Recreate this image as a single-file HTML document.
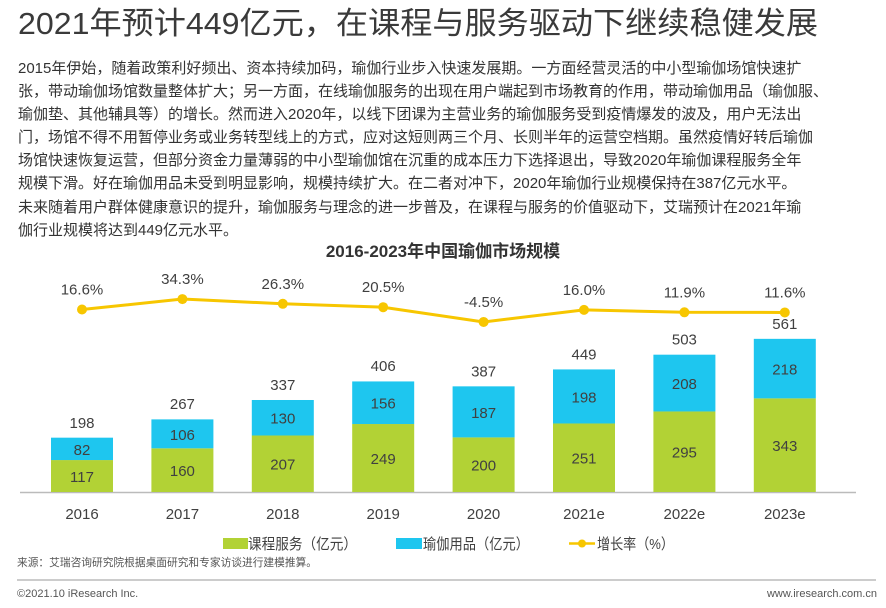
<!DOCTYPE html>
<html><head><meta charset="utf-8">
<style>
body{margin:0;width:886px;height:608px;background:#fff;overflow:hidden;font-family:"Liberation Sans","Noto Sans CJK SC",sans-serif;color:#404040;position:relative}
.t{position:absolute;white-space:nowrap}
#body{left:18px;top:57px;font-size:15px;line-height:23.1px;color:#333;white-space:normal;width:866px}
</style></head>
<body>
<div class="t" id="body">2015年伊始，随着政策利好频出、资本持续加码，瑜伽行业步入快速发展期。一方面经营灵活的中小型瑜伽场馆快速扩<br>张，带动瑜伽场馆数量整体扩大；另一方面，在线瑜伽服务的出现在用户端起到市场教育的作用，带动瑜伽用品（瑜伽服、<br>瑜伽垫、其他辅具等）的增长。然而进入2020年，以线下团课为主营业务的瑜伽服务受到疫情爆发的波及，用户无法出<br>门，场馆不得不用暂停业务或业务转型线上的方式，应对这短则两三个月、长则半年的运营空档期。虽然疫情好转后瑜伽<br>场馆快速恢复运营，但部分资金力量薄弱的中小型瑜伽馆在沉重的成本压力下选择退出，导致2020年瑜伽课程服务全年<br>规模下滑。好在瑜伽用品未受到明显影响，规模持续扩大。在二者对冲下，2020年瑜伽行业规模保持在387亿元水平。<br>未来随着用户群体健康意识的提升，瑜伽服务与理念的进一步普及，在课程与服务的价值驱动下，艾瑞预计在2021年瑜<br>伽行业规模将达到449亿元水平。</div>
<svg id="chart" width="886" height="608" style="position:absolute;left:0;top:0"></svg>
<script>
const years=["2016","2017","2018","2019","2020","2021e","2022e","2023e"];
const courseValues=[117,160,207,249,200,251,295,343];
const goodsValues=[82,106,130,156,187,198,208,218];
const totalValues=[198,267,337,406,387,449,503,561];
const growthValues=[16.6,34.3,26.3,20.5,-4.5,16.0,11.9,11.6];
const growthLabels=["16.6%","34.3%","26.3%","20.5%","-4.5%","16.0%","11.9%","11.6%"];
const NS="http://www.w3.org/2000/svg";
const svg=document.getElementById('chart');
const base=492, pxPer=0.273;
const xC=i=>82+i*100.4;
const yB=v=>base-v*pxPer;
const yL=v=>319.3-v*0.59;
function mk(tag,attrs,txt){const e=document.createElementNS(NS,tag);for(const k in attrs)e.setAttribute(k,attrs[k]);if(txt!==undefined)e.textContent=txt;svg.appendChild(e);return e;}
const F='"Liberation Sans","Noto Sans CJK SC",sans-serif';
let e=mk('text',{x:18,y:34,'font-size':31,fill:'#3a3a3a','font-family':F,textLength:800,lengthAdjust:'spacingAndGlyphs'},'2021年预计449亿元，在课程与服务驱动下继续稳健发展');


e=mk('text',{x:443,y:257,'text-anchor':'middle','font-size':17,'font-weight':'bold',fill:'#333','font-family':F},'2016-2023年中国瑜伽市场规模');


e=mk('line',{x1:20,x2:856,y1:base+0.5,y2:base+0.5,stroke:'#bbb','stroke-width':1.5});


years.forEach((y,i)=>{
  const x=xC(i),w=62;
  let g=mk('rect',{x:x-w/2,y:yB(courseValues[i]),width:w,height:courseValues[i]*pxPer,fill:'#b2d235'});
  
  
  let b=mk('rect',{x:x-w/2,y:yB(courseValues[i]+goodsValues[i]),width:w,height:goodsValues[i]*pxPer,fill:'#1ec6ef'});
  
  
  let t=mk('text',{x:x,y:yB(courseValues[i]/2)+6,'text-anchor':'middle','font-size':15,fill:'#404040','font-family':F},courseValues[i]);
  
  
  t=mk('text',{x:x,y:yB(courseValues[i]+goodsValues[i]/2)+6,'text-anchor':'middle','font-size':15,fill:'#404040','font-family':F},goodsValues[i]);
  
  
  t=mk('text',{x:x,y:yB(totalValues[i])-10,'text-anchor':'middle','font-size':15,fill:'#404040','font-family':F},totalValues[i]);
  
  
  t=mk('text',{x:x,y:519,'text-anchor':'middle','font-size':15,fill:'#404040','font-family':F},y);
  
  
});
let pts=years.map((y,i)=>xC(i)+','+yL(growthValues[i])).join(' ');
e=mk('polyline',{points:pts,fill:'none',stroke:'#f7c600','stroke-width':3});


years.forEach((y,i)=>{
  let c=mk('circle',{cx:xC(i),cy:yL(growthValues[i]),r:5,fill:'#f7c600'});
  
  
  let t=mk('text',{x:xC(i),y:yL(growthValues[i])-15,'text-anchor':'middle','font-size':15,fill:'#404040','font-family':F},growthLabels[i]);
  
  
});
// legend
e=mk('rect',{x:223,y:538,width:25,height:11,fill:'#b2d235'});


e=mk('text',{x:248,y:549,'font-size':15,fill:'#404040','font-family':F,textLength:109,lengthAdjust:'spacingAndGlyphs'},'课程服务（亿元）');


e=mk('rect',{x:396,y:538,width:26,height:11,fill:'#1ec6ef'});


e=mk('text',{x:423,y:549,'font-size':15,fill:'#404040','font-family':F,textLength:106,lengthAdjust:'spacingAndGlyphs'},'瑜伽用品（亿元）');


e=mk('line',{x1:569,x2:595,y1:543.5,y2:543.5,stroke:'#f7c600','stroke-width':2.5});


e=mk('circle',{cx:582,cy:543.5,r:4,fill:'#f7c600'});


e=mk('text',{x:597,y:549,'font-size':15,fill:'#404040','font-family':F,textLength:77,lengthAdjust:'spacingAndGlyphs'},'增长率（%）');


e=mk('text',{x:17,y:566,'font-size':11,fill:'#555','font-family':F,textLength:300,lengthAdjust:'spacingAndGlyphs'},'来源：艾瑞咨询研究院根据桌面研究和专家访谈进行建模推算。');


e=mk('line',{x1:17,x2:876,y1:580,y2:580,stroke:'#bbb','stroke-width':1.5});


e=mk('text',{x:17,y:597,'font-size':11,fill:'#555','font-family':F},'©2021.10 iResearch Inc.');


e=mk('text',{x:877,y:597,'text-anchor':'end','font-size':11,fill:'#555','font-family':F},'www.iresearch.com.cn');


</script>
</body></html>
